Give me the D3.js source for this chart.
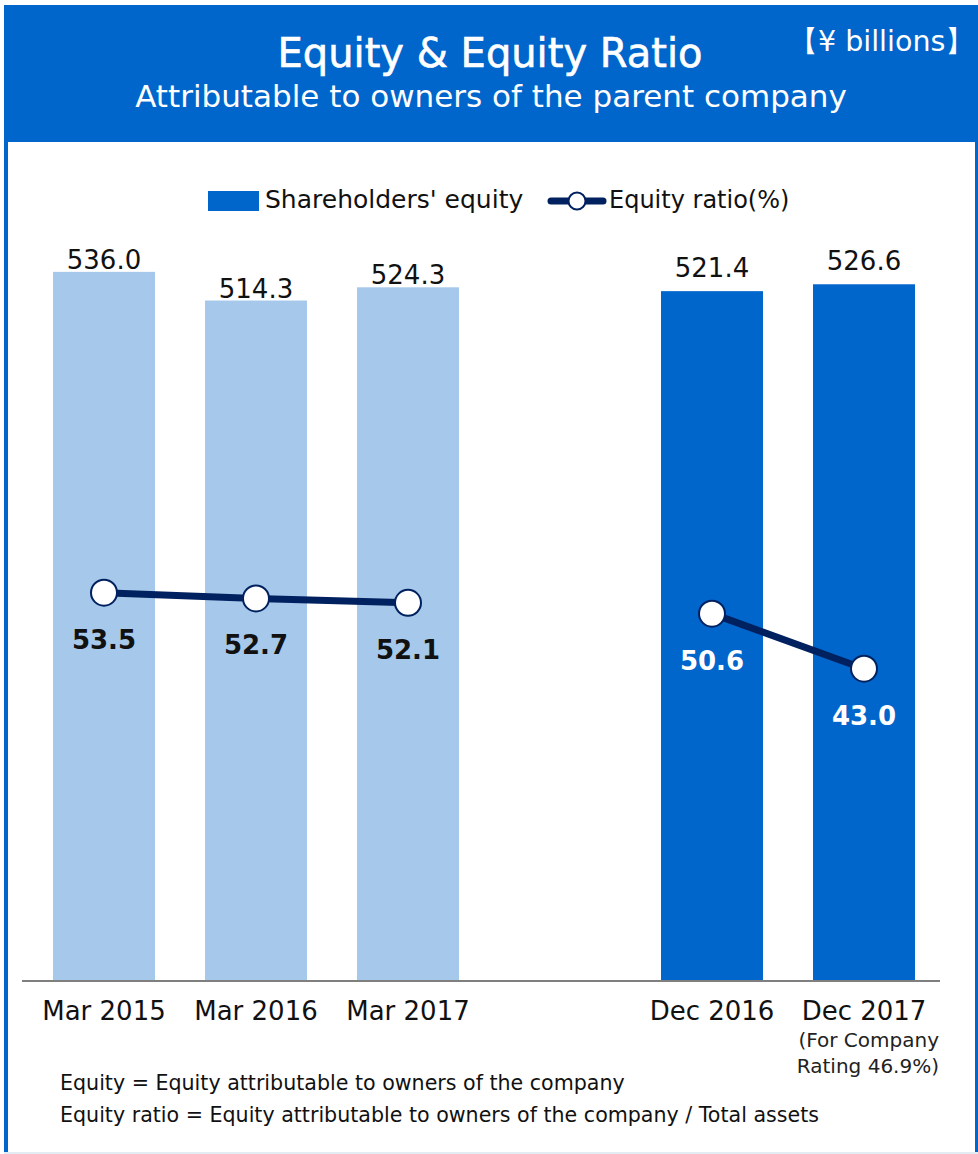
<!DOCTYPE html>
<html>
<head>
<meta charset="utf-8">
<script src="https://cdn.jsdelivr.net/npm/d3@7/dist/d3.min.js"></script>
<style>
  html, body { margin: 0; padding: 0; background: #ffffff; }
  svg { display: block; font-family: "DejaVu Sans", sans-serif; }
</style>
</head>
<body>
<svg id="chart" width="978" height="1154"></svg>
<script>
// ---- data ----
const categories = ["Mar 2015", "Mar 2016", "Mar 2017", "Dec 2016", "Dec 2017"];
const groups = ["Mar", "Mar", "Mar", "Dec", "Dec"];
const equity = [536.0, 514.3, 524.3, 521.4, 526.6];
const ratio = [53.5, 52.7, 52.1, 50.6, 43.0];
const slots = ["Mar 2015", "Mar 2016", "Mar 2017", "gap", "Dec 2016", "Dec 2017"];
const titleText = "Equity & Equity Ratio";
const subtitleText = "Attributable to owners of the parent company";
const unitText = "【¥ billions】";
const legendLabels = ["Shareholders' equity", "Equity ratio(%)"];
const footNote = ["(For Company", "Rating 46.9%)"];
const notes = [
  "Equity = Equity attributable to owners of the company",
  "Equity ratio = Equity attributable to owners of the company / Total assets"
];

const rows = categories.map((c, i) => ({ cat: c, group: groups[i], equity: equity[i], ratio: ratio[i] }));

const BLUE = "#0066cc", LIGHT = "#a6c8ea", NAVY = "#00215f";

const svg = d3.select("#chart");

// frame
svg.append("rect").attr("x", 4).attr("y", 5).attr("width", 974).attr("height", 137).attr("fill", BLUE);
svg.append("rect").attr("x", 4).attr("y", 140).attr("width", 4).attr("height", 1012).attr("fill", BLUE);
svg.append("rect").attr("x", 975).attr("y", 140).attr("width", 3).attr("height", 1012).attr("fill", BLUE);
svg.append("rect").attr("x", 4).attr("y", 1152).attr("width", 974).attr("height", 2).attr("fill", "#e3ebf3");

// titles
svg.append("text").attr("x", 490).attr("y", 67).attr("text-anchor", "middle")
  .attr("font-size", 40).attr("fill", "#fff").attr("stroke", "#fff").attr("stroke-width", 0.6)
  .text(titleText);
svg.append("text").attr("x", 491).attr("y", 107).attr("text-anchor", "middle")
  .attr("font-size", 31).attr("fill", "#fff").text(subtitleText);
svg.append("text").attr("x", 789).attr("y", 51)
  .attr("font-size", 28.5).attr("fill", "#fff")
  .text(unitText);

// scales
const x = d3.scaleBand().domain(slots).range([28, 940]).paddingInner(0.329).paddingOuter(0.1645);
const y = d3.scaleLinear().domain([0, 548]).range([980, 256]);
const y2 = d3.scaleLinear().domain([0, 100]).range([980, 256]);

// bars
svg.append("g").selectAll("rect").data(rows).join("rect")
  .attr("x", d => x(d.cat)).attr("width", x.bandwidth())
  .attr("y", d => y(d.equity)).attr("height", d => y(0) - y(d.equity))
  .attr("fill", d => d.group === "Mar" ? LIGHT : BLUE);

// bar labels
svg.append("g").selectAll("text").data(rows).join("text")
  .attr("x", d => x(d.cat) + x.bandwidth() / 2)
  .attr("y", d => y(d.equity) + (d.group === "Mar" ? -3 : -14))
  .attr("text-anchor", "middle").attr("font-size", 26).attr("fill", "#111")
  .text(d => d.equity.toFixed(1));

// baseline
svg.append("line").attr("x1", 22).attr("x2", 940).attr("y1", y(0) + 1).attr("y2", y(0) + 1)
  .attr("stroke", "#7f7f7f").attr("stroke-width", 2);

// x axis labels
const xAxis = d3.axisBottom(x).tickSize(0).tickPadding(0).tickFormat(d => d === "gap" ? "" : d);
const gx = svg.append("g").attr("transform", "translate(0,1020)").call(xAxis);
gx.select(".domain").remove();
gx.selectAll("text").attr("dy", 0).attr("font-size", 26).attr("fill", "#111")
  .attr("font-family", "DejaVu Sans, sans-serif");

// foot note under Dec 2017
svg.append("g").selectAll("text").data(footNote).join("text")
  .attr("x", 939).attr("y", (d, i) => 1047 + i * 26).attr("text-anchor", "end")
  .attr("font-size", 20).attr("fill", "#222").text(d => d);

// lines per group
const line = d3.line().x(d => x(d.cat) + x.bandwidth() / 2).y(d => y2(d.ratio));
["Mar", "Dec"].forEach(g => {
  svg.append("path").datum(rows.filter(r => r.group === g))
    .attr("d", line).attr("fill", "none").attr("stroke", NAVY).attr("stroke-width", 7);
});
svg.append("g").selectAll("circle").data(rows).join("circle")
  .attr("cx", d => x(d.cat) + x.bandwidth() / 2).attr("cy", d => y2(d.ratio)).attr("r", 13)
  .attr("fill", "#fff").attr("stroke", NAVY).attr("stroke-width", 2);
svg.append("g").selectAll("text").data(rows).join("text")
  .attr("x", d => x(d.cat) + x.bandwidth() / 2).attr("y", d => y2(d.ratio) + 56)
  .attr("text-anchor", "middle").attr("font-size", 26).attr("font-weight", "bold")
  .attr("fill", d => d.group === "Mar" ? "#111" : "#fff")
  .text(d => d.ratio.toFixed(1));

// legend
const lg = svg.append("g");
lg.append("rect").attr("x", 208).attr("y", 191).attr("width", 51).attr("height", 20).attr("fill", BLUE);
lg.append("text").attr("x", 265).attr("y", 208).attr("font-size", 25).attr("fill", "#111").text(legendLabels[0]);
lg.append("line").attr("x1", 551).attr("x2", 603).attr("y1", 201).attr("y2", 201)
  .attr("stroke", NAVY).attr("stroke-width", 7).attr("stroke-linecap", "round");
lg.append("circle").attr("cx", 577).attr("cy", 201).attr("r", 8.5).attr("fill", "#fff")
  .attr("stroke", NAVY).attr("stroke-width", 2);
lg.append("text").attr("x", 609).attr("y", 208).attr("font-size", 24).attr("fill", "#111").text(legendLabels[1]);

// notes
svg.append("g").selectAll("text").data(notes).join("text")
  .attr("x", 60).attr("y", (d, i) => 1090 + i * 32)
  .attr("font-size", 20.6).attr("fill", "#111").text(d => d);
</script>
</body>
</html>
